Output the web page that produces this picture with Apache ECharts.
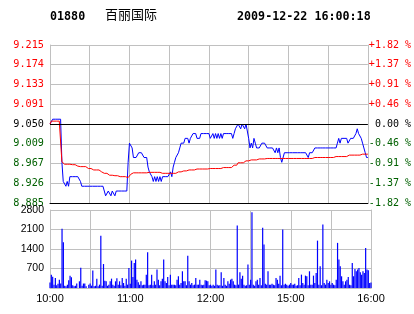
<!DOCTYPE html>
<html><head><meta charset="utf-8">
<script src="https://cdn.jsdelivr.net/npm/echarts@6/dist/echarts.min.js"></script>
<style>html,body{margin:0;padding:0;background:#fff}#c{width:414px;height:314px}</style>
</head><body><div id="c"></div>
<script>
const stockCode = '01880';
const stockName = '百丽国际';
const stamp = '2009-12-22 16:00:18';
const prevClose = 9.05;
const priceMin = 8.885, priceMax = 9.215, priceStep = 0.04125;
const priceTickLabels = ['8.885','8.926','8.967','9.009','9.050','9.091','9.133','9.174','9.215'];
const pctTickLabels = ['-1.82 %','-1.37 %','-0.91 %','-0.46 %',' 0.00 %','+0.46 %','+0.91 %','+1.37 %','+1.82 %'];
const volTickLabels = ['','700','1400','2100','2800'];
const timeTickLabels = ['10:00','','11:00','','12:00','','15:00','','16:00'];

const price = [
9.05,9.05,9.06,9.06,9.06,9.06,9.06,9.06,9.06,8.97,
8.93,8.93,8.92,8.93,8.92,8.94,8.94,8.94,8.94,8.94,
8.94,8.94,8.94,8.93,8.92,8.92,8.92,8.92,8.92,8.92,
8.92,8.92,8.92,8.92,8.92,8.92,8.92,8.92,8.92,8.92,
8.92,8.91,8.90,8.90,8.91,8.91,8.90,8.91,8.91,8.90,
8.91,8.91,8.91,8.91,8.91,8.91,8.91,8.91,8.91,8.97,
9.01,9.01,9.00,8.98,8.98,8.98,8.98,8.99,8.99,8.99,
8.99,8.98,8.98,8.98,8.96,8.95,8.95,8.94,8.93,8.94,
8.93,8.94,8.93,8.94,8.93,8.94,8.94,8.94,8.94,8.94,
8.94,8.95,8.94,8.96,8.97,8.98,8.98,8.99,9.00,9.01,
9.01,9.01,9.02,9.02,9.02,9.01,9.02,9.02,9.03,9.03,
9.03,9.02,9.02,9.02,9.03,9.03,9.03,9.03,9.03,9.03,
9.03,9.02,9.02,9.03,9.02,9.03,9.02,9.03,9.02,9.03,
9.02,9.03,9.03,9.03,9.03,9.03,9.03,9.03,9.02,9.03,
9.04,9.04,9.05,9.05,9.04,9.05,9.05,9.04,9.05,9.05,
9.02,9.00,9.01,9.00,9.02,9.01,9.00,9.00,9.00,9.00,
9.01,9.01,9.01,9.01,9.00,9.00,9.00,9.00,9.00,9.00,
8.99,9.00,8.99,9.00,8.98,8.97,8.97,8.99,8.99,8.99,
8.99,8.99,8.99,8.99,8.99,8.99,8.99,8.99,8.99,8.99,
8.99,8.99,8.99,8.99,8.99,8.98,8.99,8.99,8.99,8.99,
9.00,9.00,9.00,9.00,9.00,9.00,9.00,9.00,9.00,9.00,
9.00,9.00,9.00,9.00,9.00,9.00,9.00,9.01,9.02,9.01,
9.02,9.02,9.02,9.02,9.02,9.01,9.01,9.02,9.02,9.02,
9.02,9.03,9.04,9.03,9.03,9.02,9.01,9.01,8.99,8.98,
8.98
];

const avgPrice = [
9.050,9.056,9.056,9.056,9.056,9.056,9.056,9.056,9.056,8.971,
8.968,8.966,8.966,8.966,8.966,8.966,8.965,8.965,8.965,8.965,
8.962,8.962,8.962,8.961,8.961,8.961,8.961,8.961,8.961,8.957,
8.957,8.957,8.957,8.954,8.954,8.954,8.954,8.954,8.950,8.950,
8.950,8.947,8.947,8.947,8.943,8.943,8.943,8.943,8.943,8.942,
8.942,8.942,8.942,8.940,8.940,8.940,8.940,8.940,8.938,8.938,
8.940,8.945,8.947,8.948,8.948,8.948,8.948,8.948,8.948,8.948,
8.948,8.948,8.948,8.948,8.949,8.949,8.949,8.949,8.949,8.949,
8.949,8.949,8.949,8.949,8.949,8.947,8.947,8.947,8.947,8.947,
8.947,8.947,8.947,8.947,8.947,8.947,8.947,8.950,8.950,8.950,
8.952,8.952,8.952,8.952,8.952,8.954,8.954,8.954,8.954,8.954,
8.954,8.956,8.956,8.956,8.956,8.956,8.956,8.956,8.956,8.956,
8.956,8.957,8.957,8.957,8.957,8.957,8.957,8.957,8.957,8.957,
8.957,8.959,8.959,8.959,8.959,8.959,8.959,8.959,8.959,8.964,
8.964,8.964,8.969,8.969,8.969,8.969,8.969,8.969,8.973,8.973,
8.973,8.975,8.975,8.975,8.975,8.975,8.975,8.975,8.977,8.977,
8.977,8.977,8.977,8.977,8.978,8.978,8.978,8.978,8.978,8.978,
8.978,8.978,8.978,8.978,8.978,8.978,8.978,8.978,8.978,8.978,
8.978,8.978,8.978,8.978,8.978,8.978,8.978,8.978,8.978,8.978,
8.978,8.978,8.978,8.978,8.978,8.978,8.978,8.978,8.978,8.980,
8.980,8.980,8.980,8.980,8.980,8.980,8.980,8.980,8.980,8.980,
8.980,8.980,8.980,8.980,8.980,8.982,8.982,8.982,8.982,8.982,
8.982,8.982,8.982,8.982,8.982,8.985,8.985,8.985,8.985,8.985,
8.985,8.985,8.985,8.985,8.985,8.985,8.987,8.987,8.987,8.987,
8.987
];

const volume = [
200,480,400,120,360,100,150,300,160,2130,
1640,80,60,120,276,444,384,100,60,80,
160,0,240,730,80,160,160,60,0,120,
160,84,624,60,80,336,60,120,1880,84,
860,264,240,80,120,240,336,120,80,240,
348,120,240,100,360,180,84,336,120,720,
156,984,396,900,1020,300,204,120,240,100,
120,120,480,1280,100,120,480,100,240,120,
660,300,100,240,336,1020,240,180,396,100,
480,120,120,120,100,300,420,120,180,600,
240,240,100,1160,240,120,180,100,120,360,
120,120,300,120,100,120,276,264,240,100,
120,80,120,80,660,120,90,100,564,80,
360,120,80,240,150,300,336,240,120,100,
2240,120,564,336,444,120,80,100,840,120,
300,2720,120,80,240,300,120,360,100,2160,
1560,156,120,600,120,120,156,120,100,360,
300,156,444,100,2100,120,156,120,80,120,
180,120,120,156,80,100,360,100,480,180,
120,444,420,100,600,120,120,444,180,540,
1700,120,780,100,2280,180,120,300,180,240,
120,180,120,100,300,1620,1020,780,420,240,
120,240,300,396,120,100,900,420,684,600,
660,720,564,480,600,540,1440,660,636,180,
200
];

const RED = '#ff0000', GREEN = '#006000', GRID = '#c0c0c0';
const sideColor = (i) => i > 4 ? RED : (i < 4 ? GREEN : '#000');

const chart = echarts.init(document.getElementById('c'), null, {renderer: 'canvas'});
const monoFont = 'DejaVu Sans Mono';
chart.setOption({
  animation: false,
  backgroundColor: '#fff',
  grid: [
    {left: 50, top: 45, width: 321, height: 158},
    {left: 50, top: 210, width: 321, height: 78}
  ],
  xAxis: [
    {type: 'value', gridIndex: 0, min: 0, max: 240, interval: 30,
     axisLabel: {show: false}, axisTick: {show: false},
     axisLine: {show: true, lineStyle: {color: '#000', width: 1}},
     splitLine: {show: true, lineStyle: {color: GRID, width: 1}}},
    {type: 'value', gridIndex: 1, min: 0, max: 240, interval: 30,
     axisTick: {show: false},
     axisLine: {show: true, lineStyle: {color: GRID, width: 1}},
     splitLine: {show: true, lineStyle: {color: GRID, width: 1}},
     axisLabel: {formatter: (v, i) => timeTickLabels[i] || '', color: '#000',
                 fontFamily: 'Liberation Sans', fontSize: 11, margin: 5}}
  ],
  yAxis: [
    {type: 'value', gridIndex: 0, position: 'left', min: priceMin, max: priceMax, interval: priceStep,
     axisTick: {show: false},
     axisLine: {show: true, lineStyle: {color: GRID, width: 1}},
     splitLine: {show: true, lineStyle: {color: GRID, width: 1}},
     axisLabel: {formatter: (v, i) => priceTickLabels[i], color: (v, i) => sideColor(i),
                 fontFamily: monoFont, fontSize: 10.2, margin: 6}},
    {type: 'value', gridIndex: 0, position: 'right', min: priceMin, max: priceMax, interval: priceStep,
     axisTick: {show: false},
     axisLine: {show: true, lineStyle: {color: GRID, width: 1}},
     splitLine: {show: false},
     axisLabel: {formatter: (v, i) => pctTickLabels[i], color: (v, i) => sideColor(i),
                 fontFamily: monoFont, fontSize: 10, margin: 1, align: 'left'}},
    {type: 'value', gridIndex: 1, position: 'left', min: 0, max: 2800, interval: 700,
     axisTick: {show: false},
     axisLine: {show: true, lineStyle: {color: GRID, width: 1}},
     splitLine: {show: true, lineStyle: {color: GRID, width: 1}},
     axisLabel: {formatter: (v, i) => volTickLabels[i] || '', color: '#000',
                 fontFamily: 'Liberation Sans', fontSize: 10.5, margin: 6, padding: [4, 0, 0, 0]}},
    {type: 'value', gridIndex: 1, position: 'right', min: 0, max: 2800, interval: 700,
     axisTick: {show: false}, axisLabel: {show: false}, splitLine: {show: false},
     axisLine: {show: true, lineStyle: {color: GRID, width: 1}}}
  ],
  series: [
    {type: 'line', xAxisIndex: 0, yAxisIndex: 0, data: price.map((p, i) => [i, p]),
     symbol: 'none', showSymbol: false, lineStyle: {color: '#0000ff', width: 1},
     emphasis: {disabled: true}, z: 3,
     markLine: {silent: true, symbol: ['none', 'none'], label: {show: false},
                lineStyle: {color: '#000', type: 'solid', width: 1},
                emphasis: {disabled: true},
                data: [{yAxis: prevClose}]}},
    {type: 'line', xAxisIndex: 0, yAxisIndex: 0, data: avgPrice.map((p, i) => [i, p]),
     symbol: 'none', showSymbol: false, lineStyle: {color: RED, width: 1},
     emphasis: {disabled: true}, z: 4},
    {type: 'bar', xAxisIndex: 1, yAxisIndex: 2, data: volume.map((v, i) => [i, v]),
     barWidth: 1.2, itemStyle: {color: '#0000ff'}, emphasis: {disabled: true}}
  ],
  graphic: [
    {type: 'text', left: 50, top: 11, style: {text: stockCode, font: 'bold 11.7px "DejaVu Sans Mono"', fill: '#000'}},
    {type: 'text', left: 105, top: 8, style: {text: stockName, font: '13px "Noto Sans CJK SC"', fill: '#000'}},
    {type: 'text', left: 237, top: 11, style: {text: stamp, font: 'bold 11.7px "DejaVu Sans Mono"', fill: '#000'}}
  ]
});
</script>
</body></html>
